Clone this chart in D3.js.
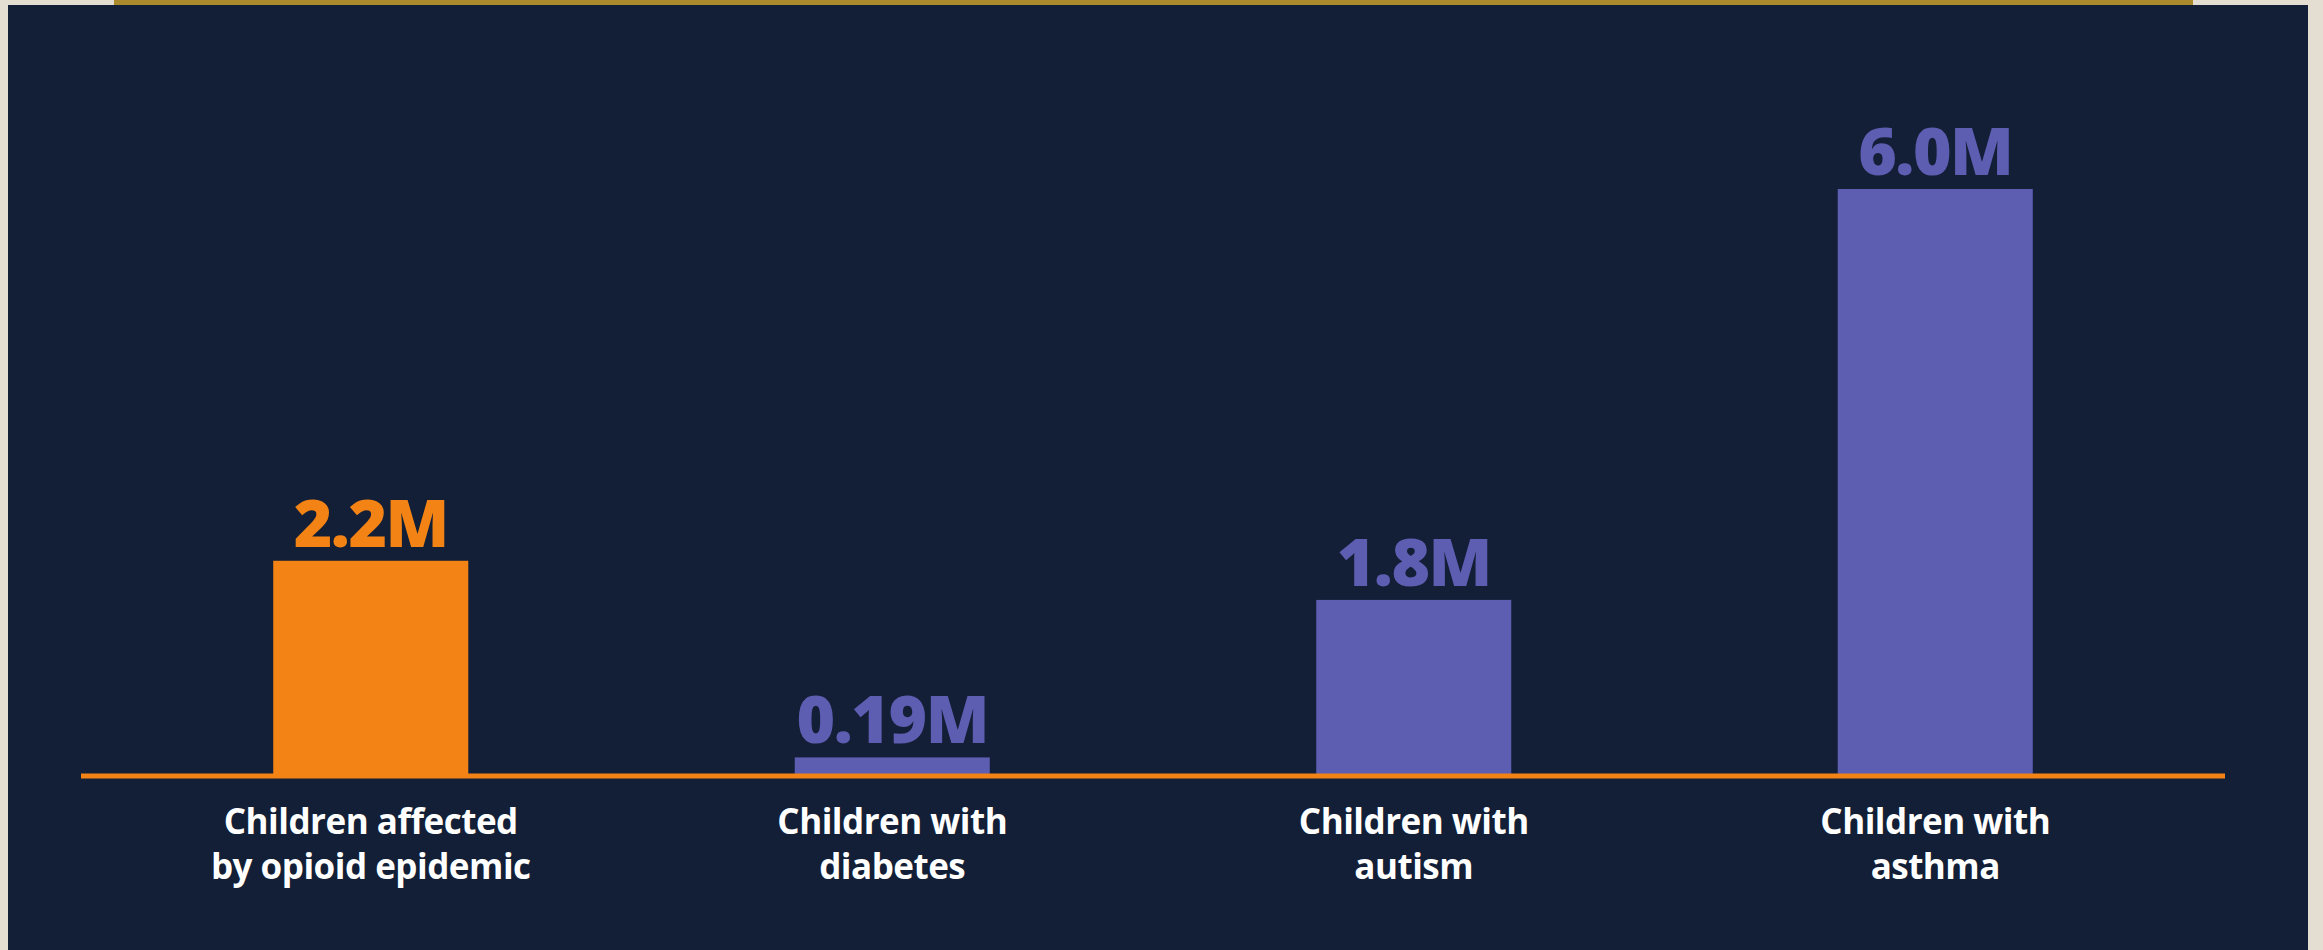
<!DOCTYPE html>
<html>
<head>
<meta charset="utf-8">
<script src="https://cdn.jsdelivr.net/npm/d3@7"></script>
<style>
  html, body { margin: 0; padding: 0; background: #e4ddd1; }
  svg { display: block; }
</style>
</head>
<body>
<svg id="chart" width="2323" height="950"></svg>
<script>
const categories = ["Children affected\nby opioid epidemic", "Children with\ndiabetes", "Children with\nautism", "Children with\nasthma"];
const values = [2.2, 0.19, 1.8, 6.0];
const valueLabels = ["2.2M", "0.19M", "1.8M", "6.0M"];
const barColors = ["#f28314", "#5d5db1", "#5d5db1", "#5d5db1"];

const W = 2323, H = 950;
const svg = d3.select("#chart");

// background panel
svg.append("rect").attr("x", 0).attr("y", 0).attr("width", W).attr("height", H).attr("fill", "#e4ddd1");
svg.append("rect").attr("x", 8).attr("y", 5).attr("width", 2300).attr("height", 945).attr("fill", "#131f36");
svg.append("rect").attr("x", 114).attr("y", 0).attr("width", 2079).attr("height", 5).attr("fill", "#ab8a2e");

const x = d3.scaleBand()
  .domain(d3.range(categories.length))
  .range([110, 2196])
  .paddingInner(0.626)
  .paddingOuter(0.313);

const baseY = 776;
const y = d3.scaleLinear().domain([0, 6]).range([baseY, 189]);

const g = svg.append("g");

g.selectAll("rect.bar")
  .data(values)
  .join("rect")
  .attr("class", "bar")
  .attr("x", (d, i) => x(i))
  .attr("width", x.bandwidth())
  .attr("y", d => y(d))
  .attr("height", d => baseY - y(d))
  .attr("fill", (d, i) => barColors[i]);

// baseline
g.append("line")
  .attr("x1", x.range()[0] - 29)
  .attr("x2", x.range()[1] + 29)
  .attr("y1", y(0))
  .attr("y2", y(0))
  .attr("stroke", "#f28314")
  .attr("stroke-width", 5);

// value labels
g.selectAll("text.val")
  .data(values)
  .join("text")
  .attr("class", "val")
  .attr("x", (d, i) => x(i) + x.bandwidth() / 2)
  .attr("y", d => y(d) - 14)
  .attr("text-anchor", "middle")
  .attr("font-family", "Open Sans")
  .attr("font-weight", 800)
  .attr("font-size", 66)
  .attr("letter-spacing", -1.5)
  .attr("fill", (d, i) => barColors[i])
  .text((d, i) => valueLabels[i]);

// category labels
const cat = g.selectAll("text.cat")
  .data(categories)
  .join("text")
  .attr("class", "cat")
  .attr("text-anchor", "middle")
  .attr("font-family", "Open Sans")
  .attr("font-weight", 700)
  .attr("font-size", 35)
  .attr("letter-spacing", -0.5)
  .attr("fill", "#ffffff");

cat.each(function(d, i) {
  const t = d3.select(this);
  d.split("\n").forEach((line, j) => {
    t.append("tspan")
      .attr("x", x(i) + x.bandwidth() / 2)
      .attr("y", 834 + j * 45)
      .text(line);
  });
});
</script>
</body>
</html>
